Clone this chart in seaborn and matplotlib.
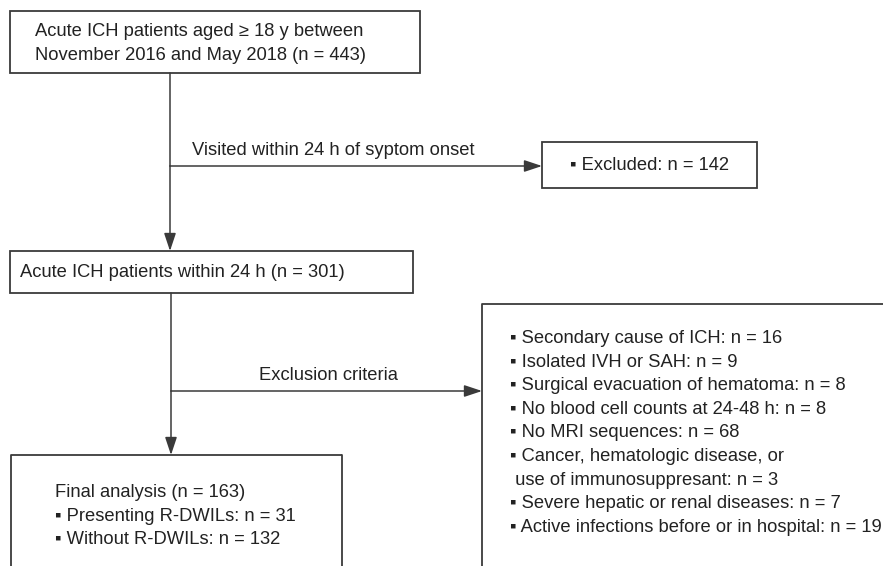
import seaborn as sns
import matplotlib.pyplot as plt
from matplotlib.patches import Rectangle

sns.set_theme(style="white")
plt.rcParams['font.family'] = ['Liberation Sans', 'DejaVu Sans']

# flowchart counts
n_total = 443
n_excluded_24h = 142
n_within_24h = 301
n_final = 163
n_rdwil = 31
n_no_rdwil = 132

excl_labels = ["Secondary cause of ICH", "Isolated IVH or SAH", "Surgical evacuation of hematoma",
               "No blood cell counts at 24-48 h", "No MRI sequences",
               "Cancer, hematologic disease, or\n use of immunosuppresant",
               "Severe hepatic or renal diseases", "Active infections before or in hospital"]
excl_counts = [16, 9, 8, 8, 68, 3, 7, 19]

W, H = 883, 566
fig = plt.figure(figsize=(W / 100, H / 100), dpi=100)
ax = fig.add_axes([0, 0, 1, 1])
ax.set_xlim(0, W)
ax.set_ylim(H, 0)
ax.axis("off")

edge = "#3a3a3a"
txt = "#222222"
fs = 13.2
step = 23.6

def box(x0, y0, x1, y1, sides="all"):
    if sides == "all":
        ax.add_patch(Rectangle((x0, y0), x1 - x0, y1 - y0, fill=False, ec=edge, lw=1.3))
    else:
        # cropped boxes: no bottom edge
        ax.plot([x0, x0, x1], [y1, y0, y0], color=edge, lw=1.3, solid_capstyle="butt")
        if sides == "open_bottom":
            ax.plot([x1, x1], [y0, y1], color=edge, lw=1.3)

def arrow(x0, y0, x1, y1):
    ax.annotate("", xy=(x1, y1), xytext=(x0, y0),
                arrowprops=dict(arrowstyle="-|>,head_length=0.9,head_width=0.3", color=edge, lw=1.1,
                                shrinkA=0, shrinkB=0))

def write(x, y, s, ha="left"):
    ax.text(x, y, s, fontsize=fs, color=txt, va="baseline", ha=ha)

# top box
box(10, 11, 420, 73)
write(35, 36, "Acute ICH patients aged \u2265 18 y between")
write(35, 60, f"November 2016 and May 2018 (n = {n_total})")

# first split
ax.plot([170, 170], [73, 166], color=edge, lw=1.1)
arrow(170, 166, 170, 251)
arrow(170, 166, 542, 166)
write(192, 155, "Visited within 24 h of syptom onset")

box(542, 142, 757, 188)
write(570, 170, f"\u25aa Excluded: n = {n_excluded_24h}")

# second box
box(10, 251, 413, 293)
write(20, 277, f"Acute ICH patients within 24 h (n = {n_within_24h})")

# second split
ax.plot([171, 171], [293, 391], color=edge, lw=1.1)
arrow(171, 391, 171, 455)
arrow(171, 391, 482, 391)
write(328, 380, "Exclusion criteria", ha="center")

# final analysis box (cropped at bottom)
box(11, 455, 342, H + 5, sides="open_bottom")
final_lines = [f"Final analysis (n = {n_final})",
               f"\u25aa Presenting R-DWILs: n = {n_rdwil}",
               f"\u25aa Without R-DWILs: n = {n_no_rdwil}"]
for i, line in enumerate(final_lines):
    write(55, 497 + i * step, line)

# exclusion criteria box (cropped at right and bottom)
box(482, 304, W + 5, H + 5, sides="open_right")
y = 343
for lab, cnt in zip(excl_labels, excl_counts):
    for p in f"\u25aa {lab}: n = {cnt}".split("\n"):
        write(510, y, p)
        y += step

fig.savefig("out.png", dpi=100)
